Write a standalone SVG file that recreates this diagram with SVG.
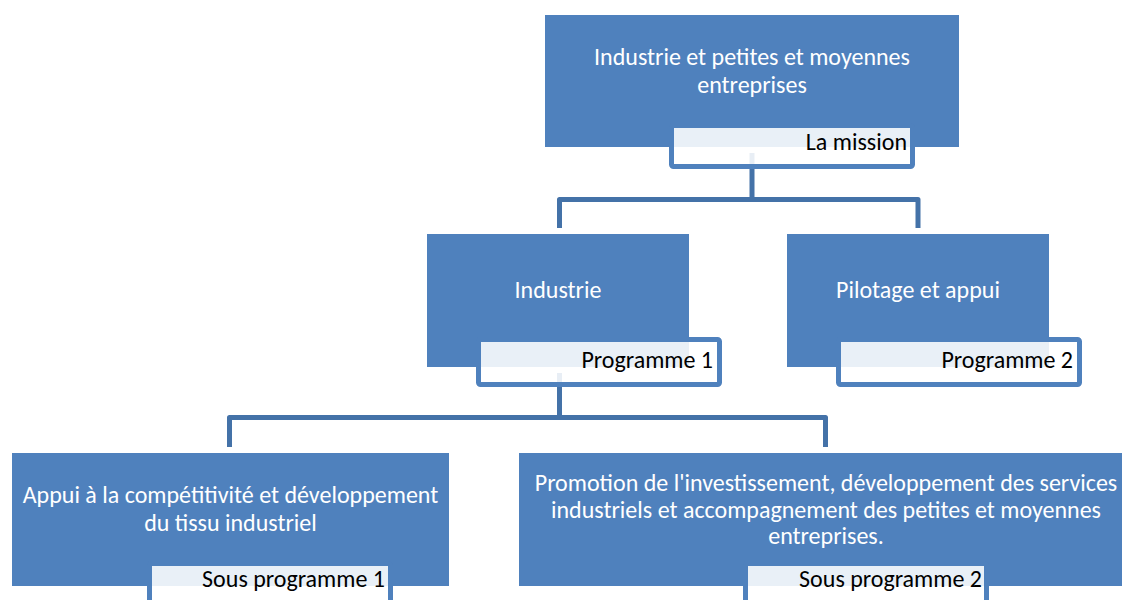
<svg xmlns="http://www.w3.org/2000/svg" width="1122" height="600" viewBox="0 0 1122 600">
<style>
.box{fill:#4f81bd}
.lbl{fill:#ffffff;fill-opacity:0.88;stroke:#4f81bd;stroke-width:5}
.conn{fill:none;stroke:#4472a8;stroke-width:5;stroke-linejoin:round}
.t{font-family:Carlito,Lato,"Open Sans",sans-serif;font-size:24px;fill:#ffffff;text-anchor:middle}
.lt{font-family:Carlito,Lato,"Open Sans",sans-serif;font-size:24px;fill:#000000;text-anchor:end}
</style>
<rect width="1122" height="600" fill="#ffffff"/>
<g id="n-mission-box"><rect class="box" x="545" y="15" width="414" height="132"/>
<text class="t" x="752" y="65">Industrie et petites et moyennes</text>
<text class="t" x="752" y="93">entreprises</text></g>
<g id="n-industrie-box"><rect class="box" x="427" y="234" width="262" height="133"/>
<text class="t" x="558" y="298">Industrie</text></g>
<g id="n-pilotage-box"><rect class="box" x="787" y="234" width="262" height="133"/>
<text class="t" x="918" y="298">Pilotage et appui</text></g>
<g id="n-sp1-box"><rect class="box" x="12" y="453" width="437" height="133"/>
<text class="t" x="230.5" y="503">Appui à la compétitivité et développement</text>
<text class="t" x="230.5" y="531">du tissu industriel</text></g>
<g id="n-sp2-box"><rect class="box" x="519" y="453" width="614" height="133"/>
<text class="t" x="826" y="491">Promotion de l'investissement, développement des services</text>
<text class="t" x="826" y="518">industriels et accompagnement des petites et moyennes</text>
<text class="t" x="826" y="544">entreprises.</text></g>
<g id="connectors">
<path class="conn" d="M752 153 V199.5 M559.5 228 V199.5 H918 V228"/>
<path class="conn" d="M559.5 373 V417.5 M229.5 447 V417.5 H825.5 V447"/>
</g>
<g id="n-mission-label"><rect class="lbl" x="671.5" y="125.5" width="241" height="41" rx="2"/>
<text class="lt" x="907" y="150">La mission</text></g>
<g id="n-prog1-label"><rect class="lbl" x="478.5" y="339.5" width="241" height="45" rx="2"/>
<text class="lt" x="713" y="368">Programme 1</text></g>
<g id="n-prog2-label"><rect class="lbl" x="838.5" y="339.5" width="241" height="45" rx="2"/>
<text class="lt" x="1073" y="368">Programme 2</text></g>
<g id="n-sp1-label"><rect class="lbl" x="149.5" y="563.5" width="241" height="60" rx="2"/>
<text class="lt" x="385" y="587">Sous programme 1</text></g>
<g id="n-sp2-label"><rect class="lbl" x="745.5" y="563.5" width="241" height="60" rx="2"/>
<text class="lt" x="982" y="587">Sous programme 2</text></g>
</svg>
